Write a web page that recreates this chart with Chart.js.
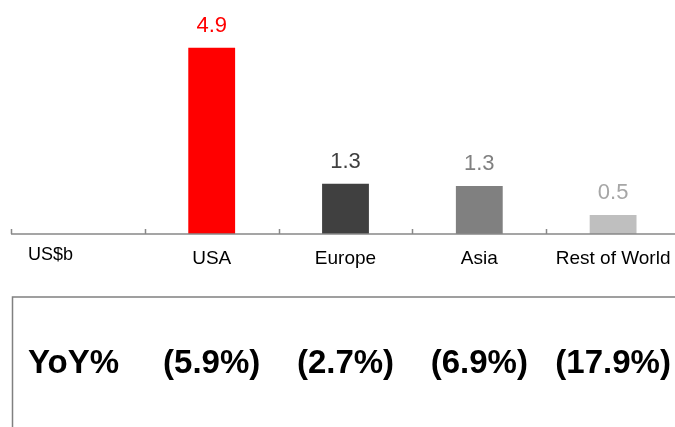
<!DOCTYPE html>
<html>
<head>
<meta charset="utf-8">
<script src="https://cdn.jsdelivr.net/npm/chart.js@4/dist/chart.umd.min.js"></script>
<style>
  html, body { margin: 0; padding: 0; overflow: hidden; background: #fff; }
  #wrap { width: 675px; height: 427px; overflow: hidden; }
</style>
</head>
<body>
<div id="wrap"><canvas id="myChart" width="690" height="427"></canvas></div>
<script>
// values
const categories = ['', 'USA', 'Europe', 'Asia', 'Rest of World'];
const revenue = [null, 4.9, 1.32, 1.26, 0.5];
const yoyLabels = ['', '(5.9%)', '(2.7%)', '(6.9%)', '(17.9%)'];
const unitLabel = 'US$b';
const yoyTitle = 'YoY%';

const barColors = ['#ffffff', '#ff0000', '#404040', '#808080', '#bfbfbf'];
const labelColors = ['#000000', '#ff0000', '#404040', '#808080', '#a6a6a6'];
const fontFamily = '"Liberation Sans", Arial, sans-serif';

const overlay = {
    id: 'overlay',
    afterDraw(chart) {
        const ctx = chart.ctx;
        const a = chart.chartArea;
        const x = chart.scales.x;
        const step = x.getPixelForValue(1) - x.getPixelForValue(0);
        ctx.save();

        // axis line with small upward ticks between categories
        ctx.strokeStyle = '#888888';
        ctx.lineWidth = 1.5;
        ctx.beginPath();
        ctx.moveTo(a.left, a.bottom);
        ctx.lineTo(a.right, a.bottom);
        for (let i = 0; i <= categories.length; i++) {
            const px = Math.round(x.getPixelForValue(i) - step / 2) + 0.5;
            ctx.moveTo(px, a.bottom);
            ctx.lineTo(px, a.bottom - 5);
        }
        ctx.stroke();

        // value labels above bars
        const meta = chart.getDatasetMeta(0);
        ctx.font = '22px ' + fontFamily;
        ctx.textAlign = 'center';
        ctx.textBaseline = 'alphabetic';
        meta.data.forEach((bar, i) => {
            if (revenue[i] == null) return;
            ctx.fillStyle = labelColors[i];
            ctx.fillText(revenue[i].toFixed(1), bar.x, bar.y - 16);
        });

        // unit label
        ctx.font = '18px ' + fontFamily;
        ctx.fillStyle = '#000';
        ctx.textAlign = 'left';
        ctx.fillText(unitLabel, a.left + 17, a.bottom + 26);

        // YoY box
        const boxTop = a.bottom + 63;
        ctx.strokeStyle = '#808080';
        ctx.lineWidth = 1.5;
        ctx.beginPath();
        ctx.moveTo(a.left + 1.5, chart.height);
        ctx.lineTo(a.left + 1.5, boxTop);
        ctx.lineTo(chart.width, boxTop);
        ctx.stroke();

        ctx.font = 'bold 33px ' + fontFamily;
        ctx.fillStyle = '#000';
        ctx.textAlign = 'left';
        ctx.fillText(yoyTitle, a.left + 17, a.bottom + 139);
        ctx.textAlign = 'center';
        yoyLabels.forEach((t, i) => {
            if (!t) return;
            ctx.fillText(t, x.getPixelForValue(i), a.bottom + 139);
        });
        ctx.restore();
    }
};

const ctx = document.getElementById('myChart').getContext('2d');
let myChart = new Chart(ctx, {
    type: 'bar',
    data: {
        labels: categories,
        datasets: [{
            data: revenue,
            backgroundColor: barColors,
            borderWidth: 0,
            barPercentage: 0.35,
            categoryPercentage: 1
        }]
    },
    options: {
        responsive: false,
        animation: false,
        events: [],
        layout: { padding: { left: 11, right: 10, top: 44, bottom: 0 } },
        plugins: {
            legend: { display: false },
            tooltip: { enabled: false }
        },
        scales: {
            x: {
                grid: { display: false },
                border: { display: false },
                ticks: {
                    color: '#000',
                    font: { family: fontFamily, size: 19 },
                    padding: 5,
                    maxRotation: 0,
                    autoSkip: false
                },
                afterFit: (scale) => { scale.height = 193; }
            },
            y: {
                display: false,
                min: 0,
                max: 5
            }
        }
    },
    plugins: [overlay]
});
</script>
</body>
</html>
